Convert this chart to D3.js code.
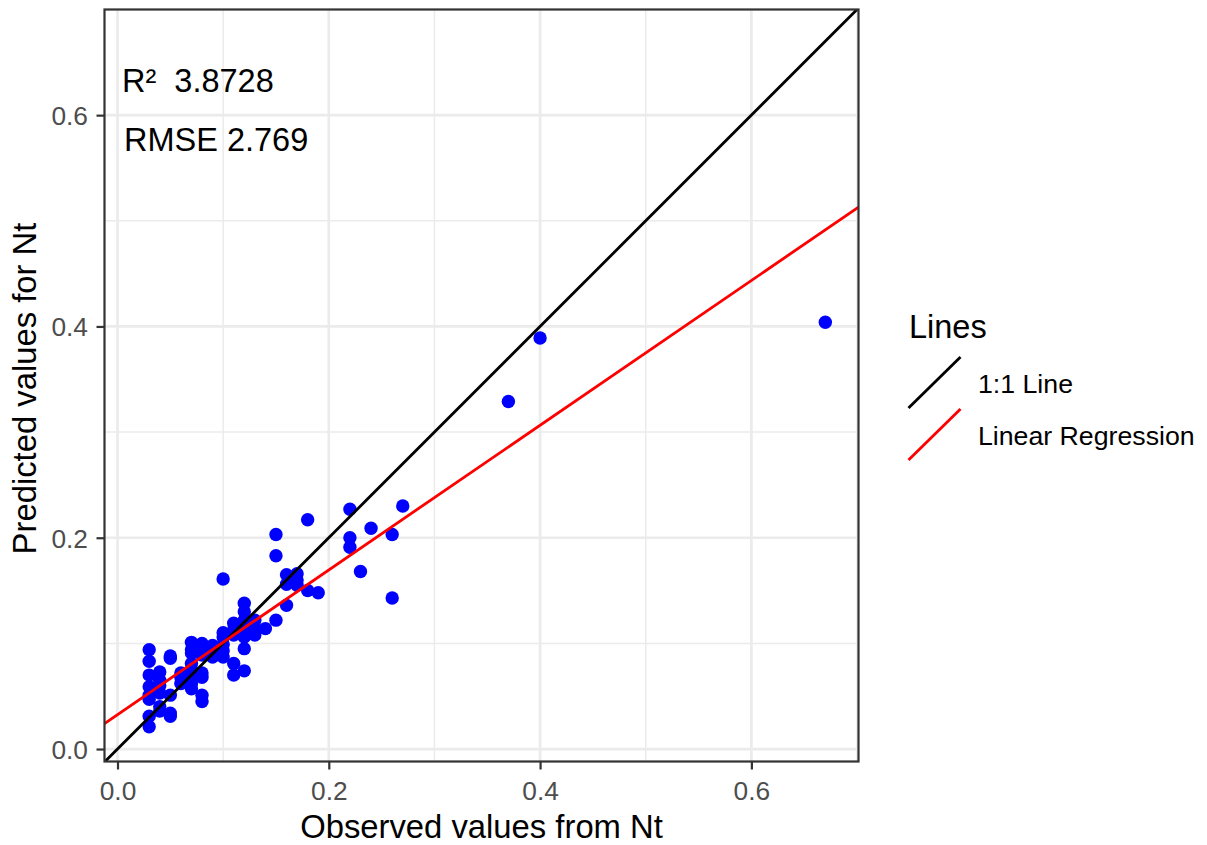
<!DOCTYPE html>
<html>
<head>
<meta charset="utf-8">
<script src="https://cdn.jsdelivr.net/npm/d3@7.9.0/dist/d3.min.js"></script>
<style>
  body { margin: 0; background: #fff; }
  svg { font-family: "Liberation Sans", Arial, sans-serif; display: block; }
</style>
</head>
<body>
<div id="chart"></div>
<script>
// observed (x) and predicted (y) values
const observed = [
  0.03, 0.03, 0.03, 0.03, 0.03, 0.03, 0.03, 0.03,
  0.04, 0.04, 0.04, 0.04, 0.04, 0.04,
  0.05, 0.05, 0.05, 0.05, 0.05,
  0.06, 0.06, 0.06,
  0.07, 0.07, 0.07, 0.07, 0.07, 0.07, 0.07, 0.07,
  0.08, 0.08, 0.08, 0.08, 0.08, 0.08, 0.08,
  0.09, 0.09, 0.09,
  0.10, 0.10, 0.10, 0.10, 0.10, 0.10,
  0.11, 0.11, 0.11, 0.11, 0.11,
  0.12, 0.12, 0.12, 0.12, 0.12, 0.12, 0.12,
  0.13, 0.13, 0.13,
  0.14,
  0.15, 0.15, 0.15,
  0.16, 0.16, 0.16,
  0.17, 0.17, 0.17,
  0.18, 0.18,
  0.19,
  0.22, 0.22, 0.22,
  0.23, 0.24, 0.26, 0.26, 0.27,
  0.37, 0.40, 0.67
];
const predicted = [
  0.094, 0.083, 0.070, 0.059, 0.051, 0.047, 0.031, 0.021,
  0.073, 0.065, 0.060, 0.053, 0.040, 0.036,
  0.088, 0.086, 0.051, 0.034, 0.031,
  0.072, 0.068, 0.062,
  0.101, 0.094, 0.091, 0.081, 0.075, 0.068, 0.062, 0.057,
  0.100, 0.094, 0.089, 0.072, 0.068, 0.051, 0.045,
  0.098, 0.092, 0.087,
  0.161, 0.110, 0.106, 0.099, 0.093, 0.087,
  0.119, 0.113, 0.108, 0.081, 0.070,
  0.138, 0.130, 0.122, 0.115, 0.106, 0.095, 0.074,
  0.122, 0.114, 0.108,
  0.114,
  0.203, 0.183, 0.122,
  0.165, 0.156, 0.136,
  0.166, 0.160, 0.155,
  0.217, 0.150,
  0.148,
  0.227, 0.200, 0.191,
  0.168, 0.209, 0.203, 0.143, 0.230,
  0.329, 0.389, 0.404
];

// fitted regression line (red) and the 1:1 line
const regIntercept = 0.0325;
const regSlope = 0.685;

const xDomain = [-0.0123, 0.7014];
const yDomain = [-0.0118, 0.70];
const majorTicks = [0, 0.2, 0.4, 0.6];
const minorTicks = [0.1, 0.3, 0.5, 0.7];

const statLabels = ["R\u00B2  3.8728", "RMSE 2.769"];
const legendTitle = "Lines";
const legendLabels = ["1:1 Line", "Linear Regression"];
const legendColors = ["#000000", "#FF0000"];

const width = 1207, height = 845;
const margin = { top: 9.5, left: 104.5, right: 1207 - 858.5, bottom: 845 - 761.5 };
const pw = width - margin.left - margin.right;
const ph = height - margin.top - margin.bottom;

const svg = d3.select('#chart').append('svg')
  .attr('width', width).attr('height', height);

const x = d3.scaleLinear().domain(xDomain).range([margin.left, margin.left + pw]);
const y = d3.scaleLinear().domain(yDomain).range([margin.top + ph, margin.top]);

svg.append('defs').append('clipPath').attr('id', 'panel')
  .append('rect')
  .attr('x', margin.left).attr('y', margin.top)
  .attr('width', pw).attr('height', ph);

// gridlines
const grid = svg.append('g');
grid.selectAll('.vminor').data(minorTicks.filter(d => d <= xDomain[1])).join('line')
  .attr('x1', d => x(d)).attr('x2', d => x(d))
  .attr('y1', margin.top).attr('y2', margin.top + ph)
  .attr('stroke', '#ebebeb').attr('stroke-width', 1.5);
grid.selectAll('.hminor').data(minorTicks.filter(d => d <= yDomain[1])).join('line')
  .attr('y1', d => y(d)).attr('y2', d => y(d))
  .attr('x1', margin.left).attr('x2', margin.left + pw)
  .attr('stroke', '#ebebeb').attr('stroke-width', 1.5);
grid.selectAll('.vmajor').data(majorTicks).join('line')
  .attr('x1', d => x(d)).attr('x2', d => x(d))
  .attr('y1', margin.top).attr('y2', margin.top + ph)
  .attr('stroke', '#ebebeb').attr('stroke-width', 2.7);
grid.selectAll('.hmajor').data(majorTicks).join('line')
  .attr('y1', d => y(d)).attr('y2', d => y(d))
  .attr('x1', margin.left).attr('x2', margin.left + pw)
  .attr('stroke', '#ebebeb').attr('stroke-width', 2.7);

// points
const points = observed.map((o, i) => ({ obs: o, pred: predicted[i] }));
svg.append('g').attr('clip-path', 'url(#panel)')
  .selectAll('circle').data(points).join('circle')
  .attr('cx', d => x(d.obs))
  .attr('cy', d => y(d.pred))
  .attr('r', 6.7)
  .attr('fill', '#0000FF');

// lines
const lines = svg.append('g').attr('clip-path', 'url(#panel)');
const line = d3.line().x(d => x(d[0])).y(d => y(d[1]));
lines.append('path')
  .attr('d', line(xDomain.map(v => [v, v])))
  .attr('stroke', legendColors[0]).attr('stroke-width', 2.8).attr('fill', 'none');
lines.append('path')
  .attr('d', line(xDomain.map(v => [v, regIntercept + regSlope * v])))
  .attr('stroke', legendColors[1]).attr('stroke-width', 2.8).attr('fill', 'none');

// panel border
svg.append('rect')
  .attr('x', margin.left).attr('y', margin.top)
  .attr('width', pw).attr('height', ph)
  .attr('fill', 'none').attr('stroke', '#333333').attr('stroke-width', 2.2);

// axes
const xAxis = svg.append('g')
  .attr('transform', `translate(0, ${margin.top + ph})`)
  .call(d3.axisBottom(x).tickValues(majorTicks).tickFormat(d3.format('.1f')).tickSize(8).tickPadding(10));
const yAxis = svg.append('g')
  .attr('transform', `translate(${margin.left}, 0)`)
  .call(d3.axisLeft(y).tickValues(majorTicks).tickFormat(d3.format('.1f')).tickSize(8).tickPadding(8));
[xAxis, yAxis].forEach(g => {
  g.select('.domain').remove();
  g.selectAll('line').attr('stroke', '#333333').attr('stroke-width', 2.2);
  g.selectAll('text').attr('fill', '#4d4d4d').style('font-size', '26.3px').attr('font-family', null);
});
xAxis.selectAll('text').attr('dy', null).attr('y', 38.5);
yAxis.selectAll('text').attr('dy', '0.36em').attr('x', -16.5);

// axis titles
svg.append('text')
  .attr('x', margin.left + pw / 2).attr('y', 838)
  .attr('text-anchor', 'middle').style('font-size', '32.8px')
  .text('Observed values from Nt');
svg.append('text')
  .attr('transform', `translate(36, ${margin.top + ph / 2 + 3}) rotate(-90)`)
  .attr('text-anchor', 'middle').style('font-size', '32.8px')
  .text('Predicted values for Nt');

// stats annotation
svg.append('text').attr('x', 122).attr('y', 91.5)
  .style('font-size', '32.5px').style('white-space', 'pre').text(statLabels[0]);
svg.append('text').attr('x', 124).attr('y', 151)
  .style('font-size', '32.5px').style('white-space', 'pre').text(statLabels[1]);

// legend
const legend = svg.append('g');
legend.append('text').attr('x', 909).attr('y', 338).style('font-size', '32.5px').text(legendTitle);
legendLabels.forEach((lab, i) => {
  const top = 357 + i * 52;
  legend.append('line')
    .attr('x1', 908.5).attr('y1', top + 51).attr('x2', 960.5).attr('y2', top)
    .attr('stroke', legendColors[i]).attr('stroke-width', 2.8);
  legend.append('text')
    .attr('x', 978).attr('y', top + 35.5)
    .style('font-size', '26.7px').text(lab);
});
</script>
</body>
</html>
